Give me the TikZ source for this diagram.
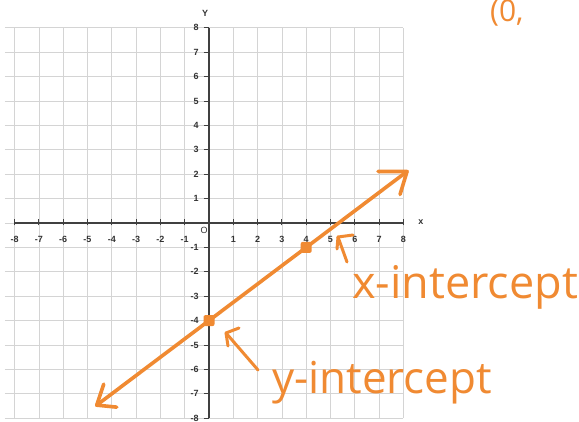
\documentclass[tikz,border=0pt]{standalone}
\usepackage{fontspec}
\setmainfont{Liberation Sans}
\newfontfamily\handfont{Open Sans}
\definecolor{hand}{RGB}{240,138,50}
\definecolor{gridc}{RGB}{212,212,212}
\begin{document}
\begin{tikzpicture}[x=1pt,y=-1pt,
  gridline/.style={gridc, line width=0.7pt},
  axisline/.style={black!75, line width=1.1pt},
  tickmark/.style={black!75, line width=0.9pt},
  ticklab/.style={font=\fontsize{9}{9}\selectfont\bfseries, text=black!80, inner sep=0.5pt},
  orangeline/.style={hand, line width=3.6pt, line cap=round, line join=round},
  annot/.style={hand, line width=3pt, line cap=round, line join=round},
  handtext/.style={font=\handfont\fontsize{44}{44}\selectfont, text=hand, inner sep=0pt},
  dotmark/.style={fill=hand, rounded corners=2pt, minimum size=11pt, inner sep=0pt}]
\useasboundingbox[fill=white] (0,0) rectangle (579,422);
\begin{scope}[shift={(209,223)}, x=24.3pt, y=24.4pt]
  \foreach \i in {-8,...,8} { \draw[gridline] (\i,-8) -- (\i,8); }
  \foreach \j in {-8,...,8} { \draw[gridline] (-8.4,\j) -- (8,\j); }
  \draw[axisline] (-8,0) -- (8,0);
  \draw[axisline] (0,-8) -- (0,8);
  \foreach \i in {-8,...,-1,1,2,...,8} {
    \draw[tickmark] (\i,-0.1) -- (\i,0.15);
    \node[ticklab] (xl\i) at (\i,-0.68) {\i};
  }
  \foreach \j in {-8,...,-1,1,2,...,8} {
    \draw[tickmark] (-0.22,\j) -- (0,\j);
    \node[ticklab, anchor=east] (yl\j) at (-0.4,\j) {\j};
  }
  \node[ticklab, font=\fontsize{9}{9}\selectfont] (orig) at (-0.2,-0.32) {O};
  \node[ticklab] (ylab) at (-0.16,8.6) {Y};
  \node[ticklab] (xlab) at (8.72,0.05) {x};
  \coordinate (L1) at (-4.62,-7.465);
  \coordinate (L2) at (8.15,2.1125);
  \node[dotmark] (P1) at (0,-4) {};
  \node[dotmark] (P2) at (4,-1) {};
\end{scope}
\draw[orangeline] (L1) -- (L2);
\draw[orangeline] ([shift={(7,-21)}]L1) -- (L1) -- ([shift={(20,2)}]L1);
\draw[orangeline] ([shift={(-29,0)}]L2) -- (L2) -- ([shift={(-7,23)}]L2);
\coordinate (ytip) at (226,333);
\coordinate (ytail) at (258,370);
\draw[annot] (ytail) -- (ytip);
\draw[annot] ([shift={(13,-5)}]ytip) -- (ytip) -- ([shift={(2,13)}]ytip);
\coordinate (xtip) at (338,237);
\coordinate (xtail) at (347,262);
\draw[annot] (xtail) -- (xtip);
\draw[annot] ([shift={(15,-2)}]xtip) -- (xtip) -- ([shift={(-1,12)}]xtip);
\node[handtext, anchor=base west, font=\handfont\fontsize{45}{45}\selectfont] (xint) at (352,299) {x-intercept};
\node[handtext, anchor=base west] (yint) at (272,393) {y-intercept};
\node[handtext, anchor=base west, font=\handfont\fontsize{30}{30}\selectfont] (ptlab) at (490,22) {(0,};
\end{tikzpicture}
\end{document}
